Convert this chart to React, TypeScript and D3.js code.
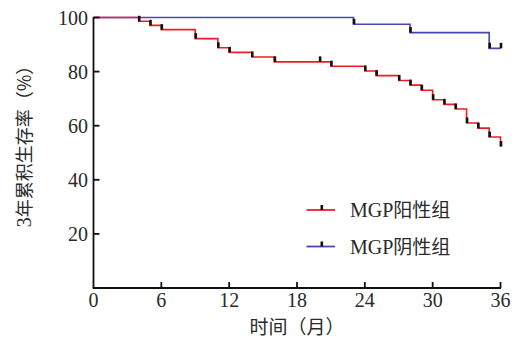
import { useEffect, useRef } from 'react';
import * as d3 from 'd3';

// months at which each group drops, and survival (%) after the drop
const posTimes = [4, 5, 6, 9, 11, 12, 14, 16, 21, 24, 25, 27, 28, 29, 30, 31, 32, 33, 34, 35, 36];
const posSurv = [98.6, 97.1, 95.5, 92.2, 88.8, 87.1, 85.4, 83.6, 82.0, 80.2, 78.5, 76.7, 75.0, 73.1, 69.6, 67.9, 66.2, 61.0, 59.1, 55.8, 52.3];
const posCensored = [20];

const negTimes = [23, 28, 35];
const negSurv = [97.5, 94.4, 88.6];
const negCensored = [36];

const xTicks = [0, 6, 12, 18, 24, 30, 36];
const yTicks = [20, 40, 60, 80, 100];
const seriesNames = ['阳性组', '阴性组'];
const colors = ['#ee1c24', '#4848b4'];

type Pt = { t: number; s: number };

const App = () => {
  const svgRef = useRef<SVGSVGElement>(null);

  useEffect(() => {
    const svg = d3.select(svgRef.current);
    svg.selectAll('*').remove();

    const x = d3.scaleLinear().domain([0, 36]).range([93.5, 500.5]);
    const y = d3.scaleLinear().domain([0, 100]).range([288, 17.5]);
    const textColor = '#2a2a2a';
    const serif = '"Liberation Serif", "Times New Roman", serif';
    const cjk = '"Noto Sans CJK SC", sans-serif';

    const build = (times: number[], surv: number[], cens: number[]) => {
      const pts: Pt[] = [{ t: 0, s: 100 }];
      times.forEach((t, i) => pts.push({ t, s: surv[i] }));
      const last = pts[pts.length - 1];
      const endT = Math.max(last.t, ...cens);
      if (endT > last.t) pts.push({ t: endT, s: last.s });
      // censor / event marks
      const marks: Pt[] = times.map((t, i) => ({ t, s: surv[i] }));
      cens.forEach(c => {
        const prev = pts.filter(p => p.t <= c).pop()!;
        marks.push({ t: c, s: prev.s });
      });
      return { pts, marks };
    };

    const groups = [
      build(negTimes, negSurv, negCensored),
      build(posTimes, posSurv, posCensored),
    ];
    const groupColors = [colors[1], colors[0]];

    const line = d3.line<Pt>()
      .x(d => x(d.t))
      .y(d => y(d.s))
      .curve(d3.curveStepAfter);

    groups.forEach((g, i) => {
      svg.append('path')
        .attr('d', line(g.pts))
        .attr('fill', 'none')
        .attr('stroke', groupColors[i])
        .attr('stroke-width', 1.6);
    });

    groups.forEach(g => {
      svg.selectAll(null)
        .data(g.marks)
        .enter().append('rect')
        .attr('x', d => x(d.t) - 0.8)
        .attr('y', d => y(d.s) - 5.5)
        .attr('width', 2.6)
        .attr('height', 5.5)
        .attr('fill', '#111');
    });

    // axes
    const axisG = svg.append('g').attr('stroke', '#111').attr('stroke-width', 1.8);
    axisG.append('line').attr('x1', x(0)).attr('x2', x(0)).attr('y1', y(100) - 0.5).attr('y2', y(0));
    axisG.append('line').attr('x1', x(0) - 0.9).attr('x2', x(36) + 0.5).attr('y1', y(0)).attr('y2', y(0));
    yTicks.forEach(v => {
      axisG.append('line').attr('x1', x(0)).attr('x2', x(0) + 6).attr('y1', y(v)).attr('y2', y(v));
    });
    xTicks.slice(1).forEach(v => {
      axisG.append('line').attr('x1', x(v)).attr('x2', x(v)).attr('y1', y(0)).attr('y2', y(0) - 6);
    });

    svg.selectAll(null)
      .data(yTicks)
      .enter().append('text')
      .attr('x', 88)
      .attr('y', d => y(d) + 7)
      .attr('text-anchor', 'end')
      .attr('font-family', serif)
      .attr('font-size', 20)
      .attr('fill', textColor)
      .text(d => d);

    svg.selectAll(null)
      .data(xTicks)
      .enter().append('text')
      .attr('x', d => x(d))
      .attr('y', 307)
      .attr('text-anchor', 'middle')
      .attr('font-family', serif)
      .attr('font-size', 20)
      .attr('fill', textColor)
      .text(d => d);

    svg.append('text')
      .attr('x', 297)
      .attr('y', 334)
      .attr('text-anchor', 'middle')
      .attr('font-family', cjk)
      .attr('font-size', 19)
      .attr('fill', textColor)
      .text('时间（月）');

    const yTitle = svg.append('text')
      .attr('transform', 'translate(31,142) rotate(-90)')
      .attr('text-anchor', 'middle')
      .attr('font-family', cjk)
      .attr('font-size', 18)
      .attr('fill', textColor);
    yTitle.append('tspan').attr('font-family', serif).attr('font-size', 20).text('3');
    yTitle.append('tspan').text('年累积生存率（%）');

    // legend
    const legY = [210, 246.5];
    seriesNames.forEach((name, i) => {
      const g = svg.append('g');
      g.append('line')
        .attr('x1', 306.5).attr('x2', 335)
        .attr('y1', legY[i]).attr('y2', legY[i])
        .attr('stroke', colors[i]).attr('stroke-width', 1.8);
      g.append('rect')
        .attr('x', 320.5).attr('y', legY[i] - 5)
        .attr('width', 2.6).attr('height', 5)
        .attr('fill', '#111');
      const t = g.append('text')
        .attr('x', 350)
        .attr('y', legY[i] + 7)
        .attr('font-family', cjk)
        .attr('font-size', 19)
        .attr('fill', textColor);
      t.append('tspan').attr('font-family', serif).attr('font-size', 20).text('MGP');
      t.append('tspan').text(name);
    });
  }, []);

  return (
    <svg
      ref={svgRef}
      width={517}
      height={340}
      style={{ position: 'absolute', left: 0, top: 0, background: '#fff' }}
    />
  );
};

export default App;
